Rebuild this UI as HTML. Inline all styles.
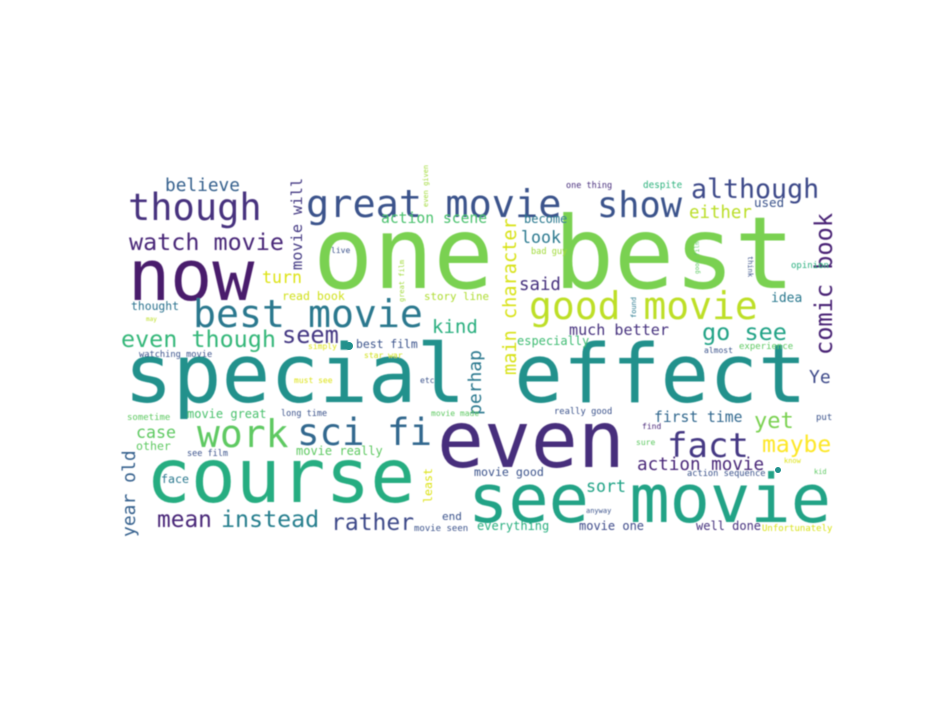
<!DOCTYPE html>
<html><head><meta charset="utf-8"><style>
html,body{margin:0;padding:0;background:#fff;width:936px;height:720px;overflow:hidden}
svg text{font-family:"DejaVu Sans Mono","Liberation Mono",monospace}
</style></head><body>
<svg id="cloud" width="936" height="720" viewBox="0 0 936 720" xmlns="http://www.w3.org/2000/svg">
<defs><filter id="soft" x="-5%" y="-5%" width="110%" height="110%"><feGaussianBlur stdDeviation="0.55"/></filter></defs>
<rect width="936" height="720" fill="#fff"/>
<g id="words" filter="url(#soft)"></g>
<circle cx="349" cy="346" r="4" fill="#21918c"/>
<circle cx="778" cy="470" r="3" fill="#21918c"/>
</svg>
<script>
const words = ["one best","now","special effect","even","course","see movie","great movie","though","show","although","watch movie","believe","best movie","good movie","even though","seem","kind","main character","comic book","go see","movie will","turn","read book","story line","action scene","thought","may","simply","best film","watching movie","star war","live","great film","one thing","despite","either","used","become","look","bad guy","good film","think","opinion","said","found","idea","much better","especially","experience","almost","must see","etc","perhap","sometime","movie great","long time","movie made","work","sci fi","case","other","see film","movie really","year old","face","least","mean","instead","rather","end","movie seen","Ye","really good","first time","yet","put","find","fact","maybe","sure","know","kid","action movie","movie good","action sequence","sort","anyway","everything","movie one","well done","Unfortunately","even given"];
const fontSizes = [100,70,81,78,74.5,67,38.6,37,35.3,26.6,23.4,17.8,38.2,38,23.4,23.6,19,18.6,23.6,23.5,15.3,16.6,11.6,10.8,14.7,11.4,6,8,11.4,8.7,8,8,7,8.5,9.3,17.4,12.5,12,16.6,8.6,6,7,9,17.4,7,13,15.1,12,9,8,8,8,18,9,12,8.5,8,38,37.4,16.6,11.6,8.5,12,18,11.6,11.6,22.8,23.3,23,11,9,18,8.8,14.7,22,9,8,34,23,8,7,7,17.6,11.6,8.7,16.6,7,12,12,12,9,7];
const colors = ["#7ad151","#481a6c","#21918c","#472d7b","#27ad81","#20a386","#3b528b","#46337e","#3b528b","#3e4a89","#482878","#35608d","#2a788e","#bddf26","#35b779","#443983","#29af7f","#d8e219","#482475","#20a386","#443a83","#dde318","#d0e11c","#addc30","#4ac16d","#2c728e","#bddf26","#dde318","#3b528b","#3b528b","#d0e11c","#3b528b","#a0da39","#472d7b","#2db27d","#bade28","#3b528b","#2a788e","#2a788e","#a0da39","#5ec962","#3b528b","#29af7f","#46337e","#2a788e","#2a788e","#46337e","#3fbc73","#5ec962","#3b528b","#dde318","#3b528b","#2a788e","#5ec962","#4ac16d","#3b528b","#5ec962","#5ec962","#31688e","#5ec962","#5ec962","#3b528b","#5ec962","#35608d","#2a788e","#dde318","#482878","#277f8e","#3e4a89","#3b528b","#3b528b","#3e4a89","#3b528b","#31688e","#7ad151","#3b528b","#482878","#443983","#fde725","#5ec962","#dde318","#5ec962","#482878","#3b528b","#3b528b","#20a386","#3b528b","#29af7f","#3e4a89","#46337e","#d8e219","#a0da39"];
// layout (left x, baseline y, rotation)
const layoutX = [313,128,124,437,146,468,306,128,597,691,129,165,193,529,121,282,432,516,832,702,302,262,282,424,381,131,146,308,356,139,364,331,404,566,643,689,754,524,521,531,699,748,791,519,636,771,569,517,739,704,294,420,481,127,187,281,431,197,297,136,136,187,296,135,161,432,157,221,331,442,414,809,554,654,754,816,642,667,762,636,784,814,637,474,687,586,586,477,579,696,762,428];
const layoutY = [288,300,402,467,502,522,217,220,217,198,250,191,327,319,347,343,333,375,355,340,270,283,300,300,223,310,321,349,348,357,358,253,302,188,188,218,207,223,243,254,274,256,268,290,318,302,335,345,349,353,383,383,415,420,418,416,416,447,445,438,450,456,455,537,483,503,527,527,530,520,531,383,414,422,428,420,429,457,452,445,463,474,470,476,476,492,513,530,530,530,531,207];
const layoutRot = [0,0,0,0,0,0,0,0,0,0,0,0,0,0,0,0,0,-90,-90,0,-90,0,0,0,0,0,0,0,0,0,0,0,-90,0,0,0,0,0,0,0,-90,90,0,0,-90,0,0,0,0,0,0,0,-90,0,0,0,0,0,0,0,0,0,0,-90,0,-90,0,0,0,0,0,0,0,0,0,0,0,0,0,0,0,0,0,0,0,0,0,0,0,0,0,-90];
const g = document.getElementById('words');
for (let i = 0; i < words.length; i++) {
  const t = document.createElementNS('http://www.w3.org/2000/svg', 'text');
  t.setAttribute('x', layoutX[i]);
  t.setAttribute('y', layoutY[i]);
  t.setAttribute('font-size', fontSizes[i]);
  t.setAttribute('fill', colors[i]);
  if (layoutRot[i]) t.setAttribute('transform', 'rotate(' + layoutRot[i] + ' ' + layoutX[i] + ' ' + layoutY[i] + ')');
  t.textContent = words[i];
  
  
  g.appendChild(t);
}
</script>
</body></html>
